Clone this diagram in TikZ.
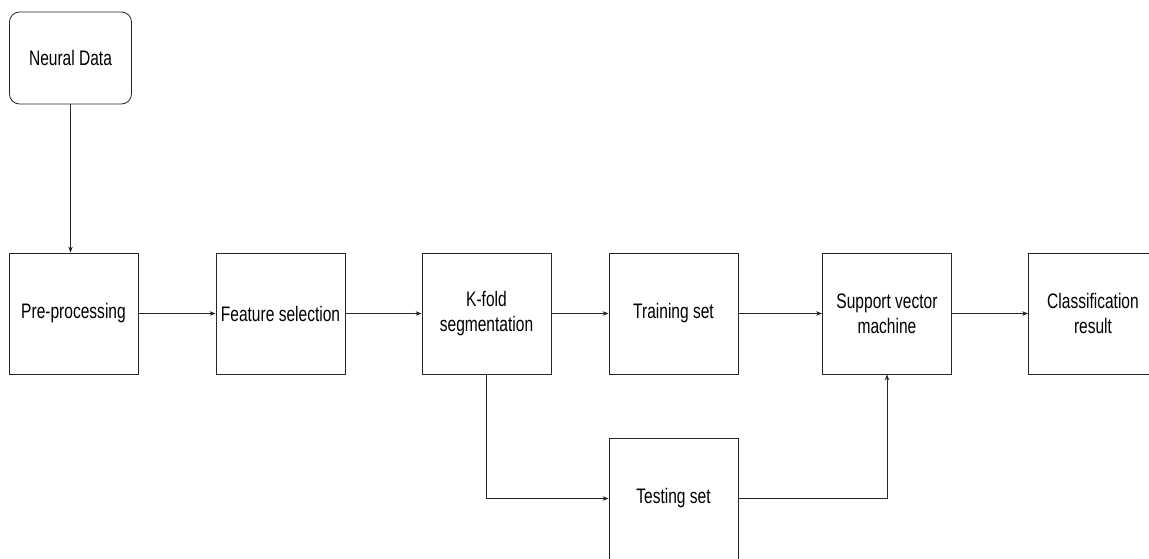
\documentclass[tikz,border=0pt]{standalone}
\usepackage{fontspec}
\setmainfont{Liberation Sans}[FakeStretch=0.74]
\usetikzlibrary{arrows.meta}
\tikzset{
  stagebox/.style={draw=black!85, line width=0.8pt, align=center, minimum width=129pt, minimum height=121pt, inner sep=0pt, text=black, font=\fontsize{21}{25}\selectfont},
  flow/.style={draw=black!85, line width=0.8pt, -{Stealth[length=6pt,width=4.5pt]}}
}
\begin{document}
\begin{tikzpicture}[x=1pt, y=-1pt]
\useasboundingbox (0,0) rectangle (1149,558);
\clip (0,0) rectangle (1149,558);
\node[stagebox, rounded corners=10pt, minimum width=122pt, minimum height=92pt] (neural) at (70.5,58) {Neural Data};
\node[stagebox] (pre) at (73.5,313.5) {Pre-processing};
\node[stagebox] (feat) at (280.5,313.5) {Feature selection};
\node[stagebox] (kfold) at (486.5,313.5) {K-fold\\segmentation};
\node[stagebox] (train) at (673.5,313.5) {Training set};
\node[stagebox] (svm) at (887,313.5) {Support vector\\machine};
\node[stagebox] (result) at (1093,313.5) {Classification\\result};
\node[stagebox] (test) at (673.5,498.5) {Testing set};
\draw[flow] (neural.south) -- (neural.south |- pre.north);
\draw[flow] (pre) -- (feat);
\draw[flow] (feat) -- (kfold);
\draw[flow] (kfold) -- (train);
\draw[flow] (train) -- (svm);
\draw[flow] (svm) -- (result);
\draw[flow] (kfold.south) |- (test.west);
\draw[flow] (test.east) -| (svm.south);
\end{tikzpicture}
\end{document}
